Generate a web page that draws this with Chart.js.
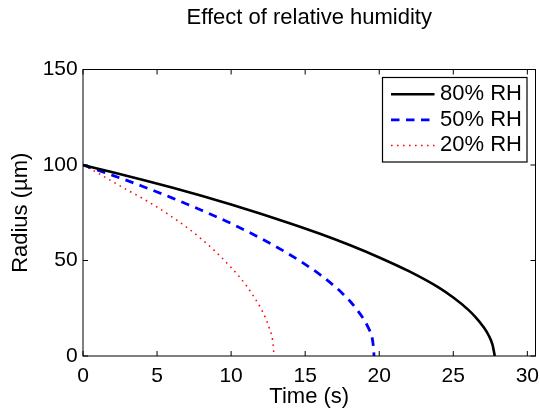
<!DOCTYPE html>
<html>
<head>
<meta charset="utf-8">
<script src="https://cdn.jsdelivr.net/npm/chart.js@4.4.1/dist/chart.umd.min.js"></script>
<style>
  html, body { margin: 0; padding: 0; background: #fff; }
</style>
</head>
<body>
<canvas id="grafico" width="540" height="410"></canvas>
<script>
// Datos: tiempo (s) y radio (µm)
const etiquetas = ["80% RH", "50% RH", "20% RH"];

const tiempo80 = [0, 2, 4, 6, 8, 10, 12, 14, 16, 18, 20, 22, 24, 25, 26, 26.5, 27, 27.4, 27.65, 27.8];
const radio80 = [100, 96.2, 92.3, 88.2, 83.9, 79.3, 74.5, 69.4, 64.0, 58.1, 51.6, 44.4, 35.9, 30.6, 24.3, 20.4, 15.6, 10.6, 5.8, 0];

const tiempo50 = [0, 1, 2, 3, 4, 5, 6, 7, 8, 9, 10, 11, 12, 13, 14, 15, 16, 17, 17.5, 18, 18.5, 19, 19.3, 19.5, 19.6, 19.65];
const radio50 = [100, 97.3, 94.6, 91.8, 88.9, 85.9, 82.8, 79.6, 76.3, 72.9, 69.4, 65.6, 61.6, 57.4, 52.9, 48.0, 42.6, 36.4, 32.9, 28.9, 24.2, 18.6, 14.2, 10.3, 5.2, 0];

const tiempo20 = [0, 1, 2, 3, 4, 5, 6, 7, 8, 9, 10, 10.5, 11, 11.5, 12, 12.3, 12.6, 12.8, 12.9];
const radio20 = [100, 95.8, 91.3, 86.9, 82.6, 78.0, 72.9, 67.4, 61.2, 54.3, 46.3, 42.0, 37.2, 31.5, 25.0, 20.3, 14.0, 8.2, 0];

const ticksX = [0, 5, 10, 15, 20, 25, 30];
const ticksY = [0, 50, 100, 150];

const fuente = "'Liberation Sans', Arial, Helvetica, sans-serif";

function puntos(xs, ys) {
  return xs.map((x, i) => ({ x: x, y: ys[i] }));
}

// Marco de ejes y marcas hacia dentro (estilo MATLAB)
const marcoEjes = {
  id: "marcoEjes",
  afterDatasetsDraw(chart) {
    const ctx = chart.ctx;
    const a = chart.chartArea;
    const sx = chart.scales.x;
    const sy = chart.scales.y;
    ctx.save();
    ctx.strokeStyle = "#000";
    ctx.lineWidth = 1;
    ctx.beginPath();
    ticksX.forEach(v => {
      const px = sx.getPixelForValue(v);
      ctx.moveTo(px, a.bottom);
      ctx.lineTo(px, a.bottom - 5);
      ctx.moveTo(px, a.top);
      ctx.lineTo(px, a.top + 5);
    });
    ticksY.forEach(v => {
      const py = sy.getPixelForValue(v);
      ctx.moveTo(a.left, py);
      ctx.lineTo(a.left + 5, py);
      ctx.moveTo(a.right, py);
      ctx.lineTo(a.right - 5, py);
    });
    ctx.stroke();
    ctx.strokeRect(a.left, a.top, a.right - a.left, a.bottom - a.top);
    ctx.restore();
  }
};

// Leyenda con recuadro dentro del área del gráfico
const leyendaCaja = {
  id: "leyendaCaja",
  afterDraw(chart) {
    const ctx = chart.ctx;
    const a = chart.chartArea;
    const x0 = a.right - 153;
    const y0 = a.top + 8;
    const w = 144.5;
    const h = 84.5;
    ctx.save();
    ctx.fillStyle = "#fff";
    ctx.fillRect(x0, y0, w, h);
    ctx.strokeStyle = "#000";
    ctx.lineWidth = 1.2;
    ctx.strokeRect(x0, y0, w, h);
    chart.data.datasets.forEach((ds, i) => {
      const y = y0 + 16.7 + i * 25.6;
      ctx.beginPath();
      ctx.strokeStyle = ds.borderColor;
      ctx.lineWidth = ds.borderWidth;
      ctx.setLineDash(ds.borderDash || []);
      ctx.moveTo(x0 + 8.5, y);
      ctx.lineTo(x0 + 52, y);
      ctx.stroke();
      ctx.setLineDash([]);
      ctx.fillStyle = "#000";
      ctx.font = "22px " + fuente;
      ctx.textBaseline = "middle";
      ctx.textAlign = "left";
      ctx.fillText(ds.label, x0 + 57.5, y);
    });
    ctx.restore();
  }
};

const ctx = document.getElementById("grafico").getContext("2d");
new Chart(ctx, {
  type: "line",
  data: {
    datasets: [
      {
        label: etiquetas[0],
        data: puntos(tiempo80, radio80),
        borderColor: "#000000",
        borderWidth: 2.6
      },
      {
        label: etiquetas[1],
        data: puntos(tiempo50, radio50),
        borderColor: "#0000ff",
        borderWidth: 2.8,
        borderDash: [8.5, 6.5]
      },
      {
        label: etiquetas[2],
        data: puntos(tiempo20, radio20),
        borderColor: "#ff0000",
        borderWidth: 1.5,
        borderDash: [1.6, 4.4]
      }
    ]
  },
  options: {
    responsive: false,
    animation: false,
    devicePixelRatio: 1,
    elements: {
      point: { radius: 0 },
      line: { cubicInterpolationMode: "monotone", fill: false }
    },
    layout: { padding: { left: 0, right: 4.5, top: 0, bottom: 0 } },
    plugins: {
      legend: { display: false },
      tooltip: { enabled: false },
      title: {
        display: true,
        text: "Effect of relative humidity",
        fullSize: false,
        color: "#000",
        font: { family: fuente, size: 22, weight: "normal" },
        padding: { top: 5.2, bottom: 37.9 }
      }
    },
    scales: {
      x: {
        type: "linear",
        min: 0,
        max: 30.55,
        grid: { display: false, drawTicks: false },
        border: { display: false },
        afterBuildTicks: (s) => { s.ticks = ticksX.map(v => ({ value: v })); },
        afterFit: (s) => { s.height = 54; s.paddingLeft = 0; s.paddingRight = 0; },
        ticks: {
          color: "#000",
          font: { family: fuente, size: 21 },
          padding: 7.5,
          maxRotation: 0,
          autoSkip: false
        },
        title: {
          display: true,
          text: "Time (s)",
          color: "#000",
          font: { family: fuente, size: 22 },
          padding: { top: 0, bottom: 0 }
        }
      },
      y: {
        type: "linear",
        min: 0,
        max: 150,
        grid: { display: false, drawTicks: false },
        border: { display: false },
        afterBuildTicks: (s) => { s.ticks = ticksY.map(v => ({ value: v })); },
        afterFit: (s) => { s.width = 83; s.paddingTop = 0; s.paddingBottom = 0; },
        ticks: {
          color: "#000",
          font: { family: fuente, size: 21 },
          padding: 5.3
        },
        title: {
          display: true,
          text: "Radius (µm)",
          color: "#000",
          font: { family: fuente, size: 22 },
          padding: { top: 7.9, bottom: 0 }
        }
      }
    }
  },
  plugins: [marcoEjes, leyendaCaja]
});
</script>
</body>
</html>
